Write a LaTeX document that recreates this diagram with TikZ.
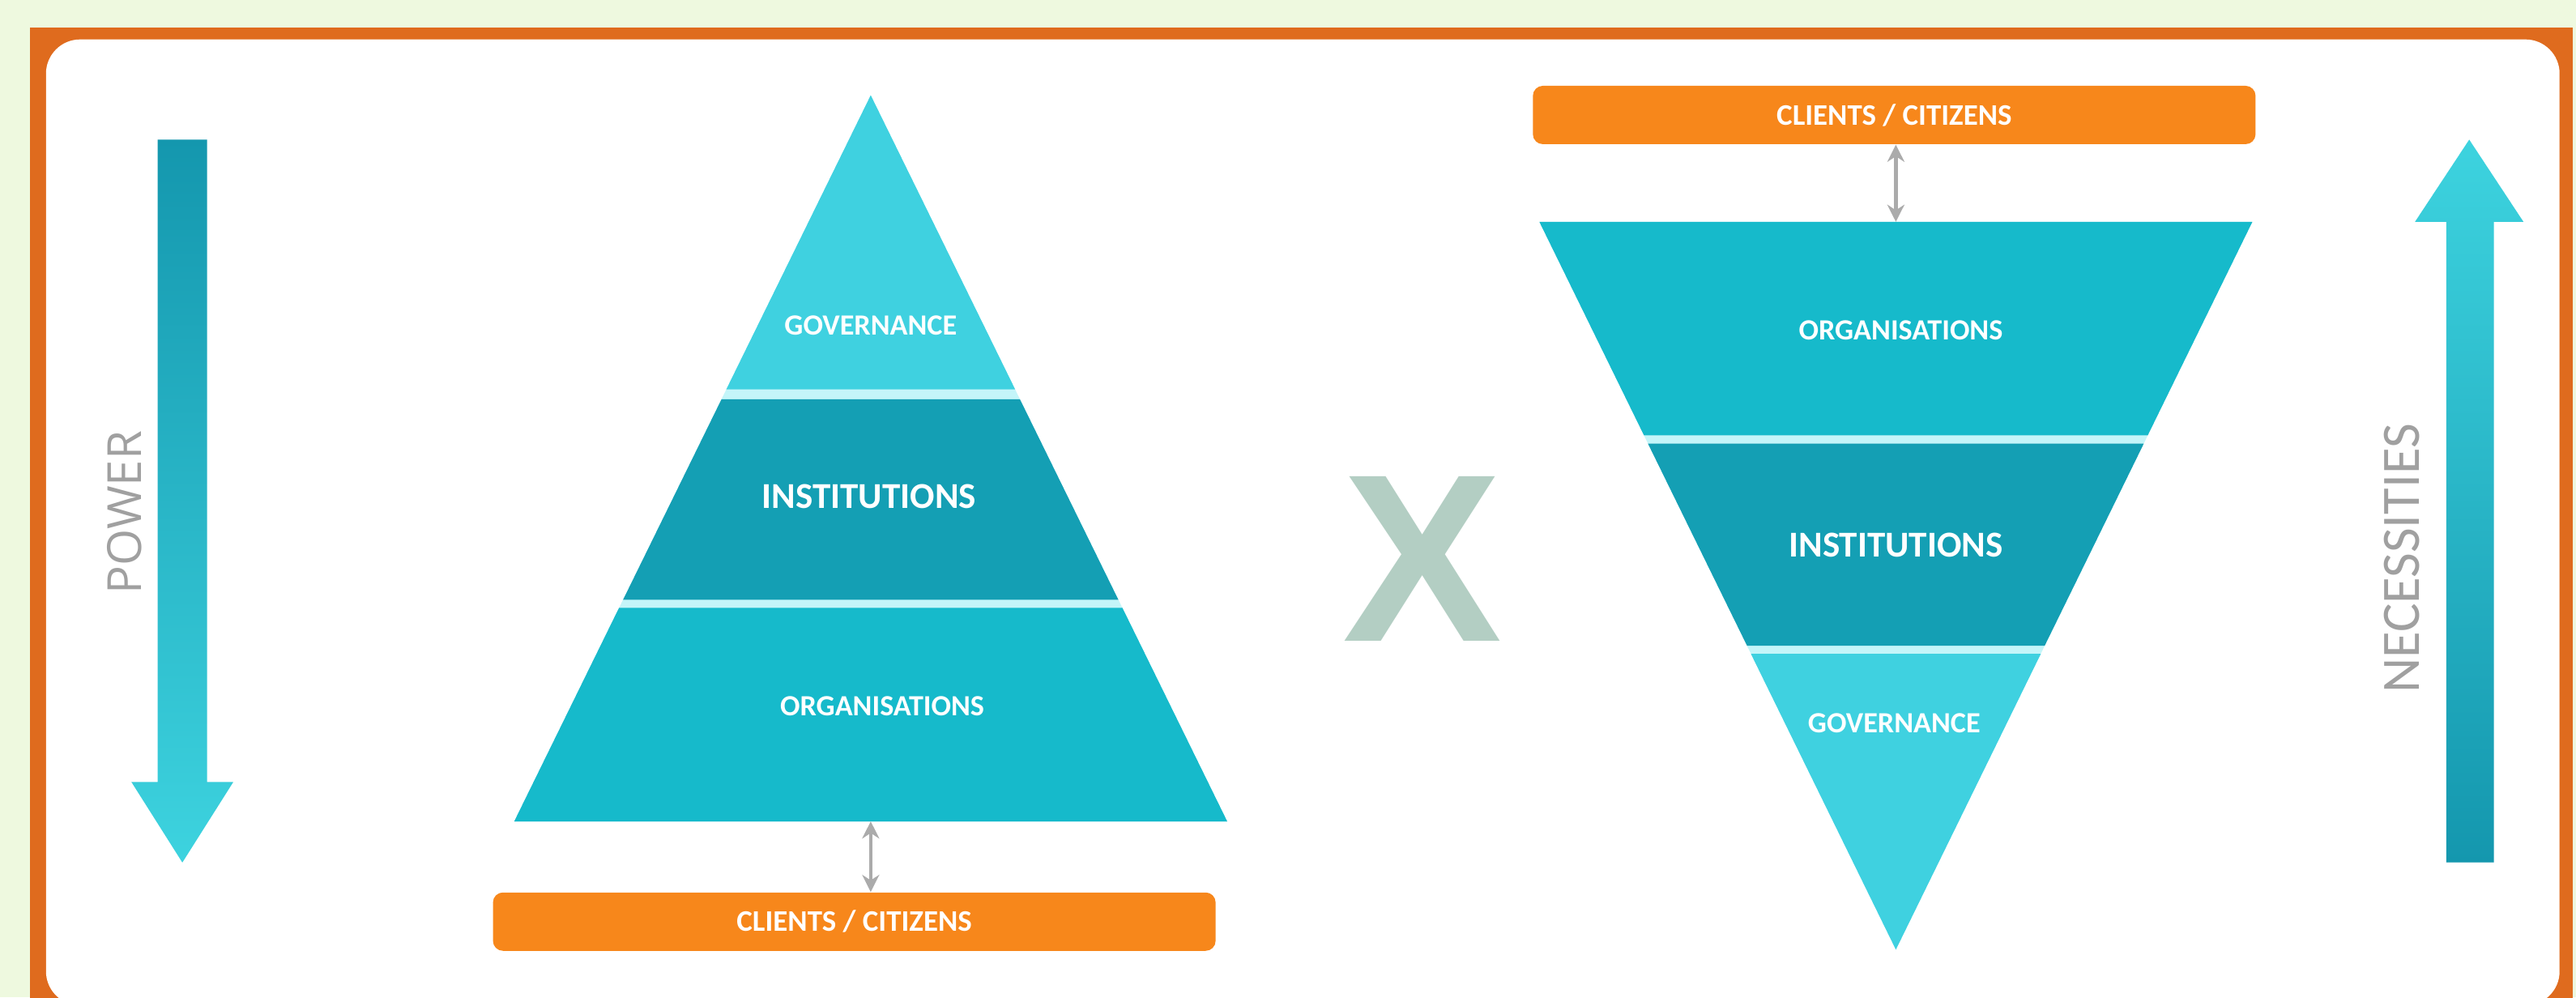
\documentclass[tikz,border=0pt]{standalone}
\usepackage{fontspec}
\setmainfont{Carlito}
\newfontfamily\xfont{Liberation Sans}
\newfontfamily\powfont{Open Sans}
\usetikzlibrary{arrows.meta}
\definecolor{frameorange}{HTML}{DF6B1E}
\definecolor{barorange}{HTML}{F7871B}
\definecolor{govc}{HTML}{3FD1E0}
\definecolor{instc}{HTML}{149FB4}
\definecolor{orgc}{HTML}{16BACB}
\definecolor{gapc}{HTML}{C4F5F9}
\definecolor{xgray}{HTML}{B3CEC3}
\definecolor{txtgray}{HTML}{A0A0A0}
\definecolor{bgdots}{HTML}{EEF9DF}
\definecolor{arrdark}{HTML}{1497AE}
\definecolor{arrlight}{HTML}{3DD3DF}
\definecolor{linkgray}{HTML}{ABABAB}
\tikzset{
  lbl/.style={text=white, inner sep=0pt, font=\bfseries\fontsize{10.3}{12}\selectfont},
  lblbig/.style={lbl, font=\bfseries\fontsize{12.8}{14}\selectfont},
  clientbar/.style={fill=barorange, rounded corners=3.5pt, minimum width=8.92cm, minimum height=0.72cm, inner sep=0pt, text=white, font=\bfseries\fontsize{10.5}{12}\selectfont},
  sidelbl/.style={text=txtgray, inner sep=0pt, rotate=90},
  link/.style={draw=linkgray, line width=1.3pt, {Stealth[length=6pt,width=6pt]}-{Stealth[length=6pt,width=6pt]}},
}
\begin{document}
\begin{tikzpicture}[x=0.02028cm,y=-0.02028cm]
\useasboundingbox (0,0) rectangle (1568,607);
% background and frame
\fill[bgdots] (0,0) rectangle (1568,607);
\fill[frameorange] (18,17) rectangle (1566,625);
\fill[white, rounded corners=12pt] (28,24) rectangle (1558,612);

% ---------- left arrow (POWER) ----------
\shade[top color=arrdark, bottom color=arrlight]
  (96,85) -- (126,85) -- (126,476) -- (142,476) -- (111,525) -- (80,476) -- (96,476) -- cycle;
\node[sidelbl, font=\powfont\fontsize{16.5}{16.5}\selectfont] (power) at (76,312) {POWER};

% ---------- left pyramid ----------
\fill[gapc] (530,58) -- (747,500) -- (313,500) -- cycle;
\fill[govc]  (530,58) -- (617.9,237) -- (442.1,237) -- cycle;
\fill[instc] (439.2,243) -- (620.8,243) -- (680.7,365) -- (379.3,365) -- cycle;
\fill[orgc]  (376.8,370) -- (683.2,370) -- (747,500) -- (313,500) -- cycle;
\node[lbl]    (govL)  at (530,198) {GOVERNANCE};
\node[lblbig] (instL) at (529,302) {INSTITUTIONS};
\node[lbl]    (orgL)  at (537,430) {ORGANISATIONS};
\coordinate (orgLb) at (530,500);
\node[clientbar] (cliL) at (520,561) {CLIENTS / CITIZENS};
\draw[link] (orgLb) -- (orgLb |- cliL.north);

% ---------- X ----------
\node[inner sep=0pt, text=xgray, font=\xfont\bfseries\fontsize{84}{84}\selectfont] (x) at (866,340) {X};

% ---------- right inverted pyramid ----------
\node[clientbar] (cliR) at (1153,70) {CLIENTS / CITIZENS};
\fill[gapc] (937,135) -- (1371,135) -- (1154,578) -- cycle;
\fill[orgc]  (937,135) -- (1371,135) -- (1307.3,265) -- (1000.7,265) -- cycle;
\fill[instc] (1003.1,270) -- (1304.9,270) -- (1244.6,393) -- (1063.4,393) -- cycle;
\fill[govc]  (1065.8,398) -- (1242.2,398) -- (1154,578) -- cycle;
\coordinate (orgRt) at (1154,135);
\node[lbl]    (orgR)  at (1157,201) {ORGANISATIONS};
\node[lblbig] (instR) at (1154,332) {INSTITUTIONS};
\node[lbl]    (govR)  at (1153,440) {GOVERNANCE};
\draw[link] (cliR.south -| orgRt) -- (orgRt);

% ---------- right arrow (NECESSITIES) ----------
\shade[top color=arrlight, bottom color=arrdark]
  (1503,85) -- (1536,135) -- (1518,135) -- (1518,525) -- (1489,525) -- (1489,135) -- (1470,135) -- cycle;
\node[sidelbl, font=\fontsize{19}{19}\selectfont] (nec) at (1462,340) {NECESSITIES};
\end{tikzpicture}
\end{document}
